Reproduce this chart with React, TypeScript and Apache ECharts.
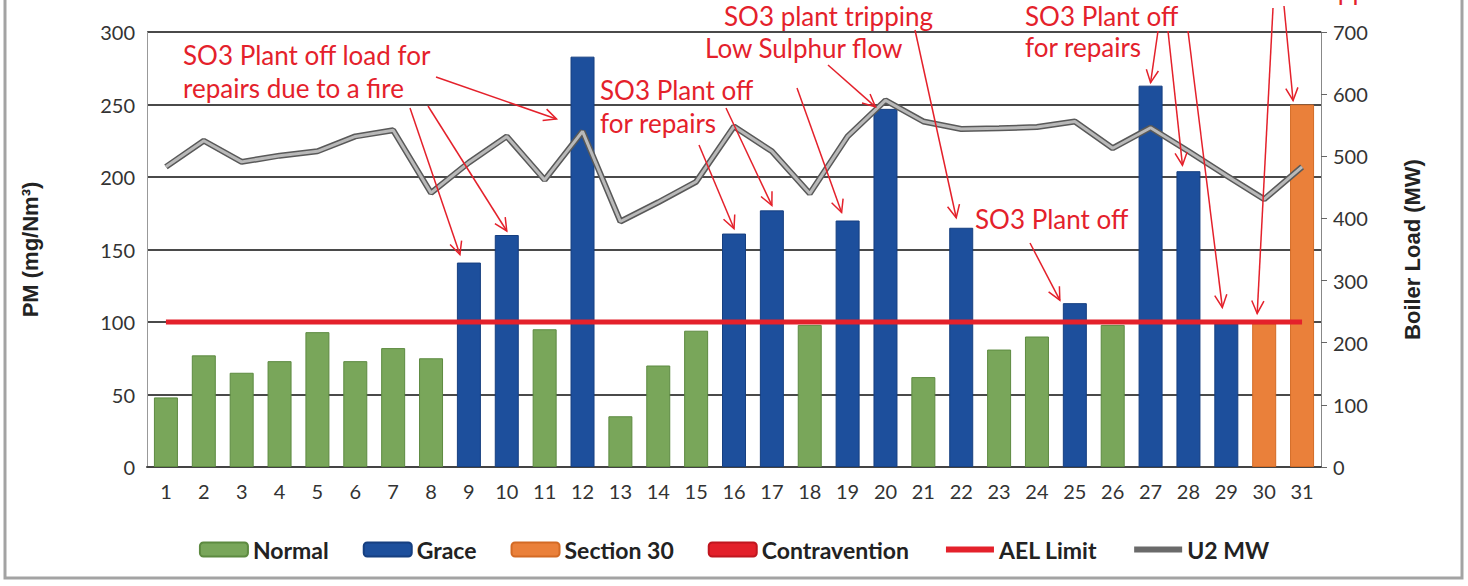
import React, { useEffect, useRef } from 'react';
import * as echarts from 'echarts';

// ---- data ----
const days = ['1','2','3','4','5','6','7','8','9','10','11','12','13','14','15','16','17','18','19','20','21','22','23','24','25','26','27','28','29','30','31'];
// N = Normal, G = Grace, S = Section 30, C = Contravention
const status = ['N','N','N','N','N','N','N','N','G','G','N','G','N','N','N','G','G','N','G','G','N','G','N','N','G','N','G','G','G','S','S'];
const pmValues = [48,77,65,73,93,73,82,75,141,160,95,283,35,70,94,161,177,98,170,247,62,165,81,90,113,98,263,204,99,99,250];
const mwValues = [483,525,491,501,508,532,542,441,490,532,462,540,395,426,459,548,508,440,532,590,556,544,545,547,556,513,546,508,469,431,483];
const aelLimit = [100,100,100,100,100,100,100,100,100,100,100,100,100,100,100,100,100,100,100,100,100,100,100,100,100,100,100,100,100,100,100];
const pmTicks = { min: 0, max: 300, interval: 50 };
const mwTicks = { min: 0, max: 700, interval: 100 };

const statusSeries = [
  { key: 'N', name: 'Normal', color: '#79a65a', border: '#5d8a40' },
  { key: 'G', name: 'Grace', color: '#1d4f9c', border: '#163f80' },
  { key: 'S', name: 'Section 30', color: '#ea803a', border: '#d36a25' },
  { key: 'C', name: 'Contravention', color: '#e3202a', border: '#c0161f' },
];
const legendNames = ['Normal', 'Grace', 'Section 30', 'Contravention', 'AEL Limit', 'U2 MW'];

// annotations: text lines (layout positions) and arrows pointing at data (day, pm value)
const annotationTexts = [
  { text: 'SO3 Plant off load for', x: 183, y: 55 },
  { text: 'repairs due to a fire', x: 183, y: 88 },
  { text: 'SO3 Plant off', x: 600, y: 90 },
  { text: 'for repairs', x: 600, y: 123 },
  { text: 'Low Sulphur flow', x: 705, y: 48 },
  { text: 'SO3 plant tripping', x: 724, y: 16 },
  { text: 'SO3 Plant off', x: 1025, y: 16 },
  { text: 'for repairs', x: 1025, y: 47 },
  { text: 'SO3 Plant off', x: 975, y: 219 },
  { text: 'Section 30 applied', x: 1196, y: -10 },
];
const annotationArrows = [
  { from: [410, 108], day: 9, pm: 141, dx: -9, dy: -8 },
  { from: [428, 106], day: 10, pm: 160, dx: 0, dy: -4 },
  { from: [436, 77], day: 12, pm: 240, dx: -26, dy: 0 },
  { from: [699, 145], day: 16, pm: 161, dx: 0, dy: -5 },
  { from: [726, 108], day: 17, pm: 177, dx: 0, dy: -5 },
  { from: [797, 88], day: 19, pm: 170, dx: -6, dy: -8 },
  { from: [828, 65], day: 20, pm: 247, dx: -10, dy: -2 },
  { from: [915, 30], day: 22, pm: 165, dx: -5, dy: -10 },
  { from: [1030, 243], day: 25, pm: 113, dx: -15, dy: -3 },
  { from: [1158, 31], day: 27, pm: 263, dx: 0, dy: -3 },
  { from: [1168, 31], day: 28, pm: 204, dx: -6, dy: -6 },
  { from: [1188, 31], day: 29, pm: 99, dx: -4, dy: -16 },
  { from: [1273, 8], day: 30, pm: 99, dx: -7, dy: -10 },
  { from: [1284, 6], day: 31, pm: 250, dx: -9, dy: -4 },
];

const RED = '#e4212b';
const TICK_FONT = 'Lato';

export default function App() {
  const ref = useRef<HTMLDivElement>(null);

  useEffect(() => {
    document.body.style.margin = '0';
    const chart = echarts.init(ref.current!, null, { renderer: 'svg' });

    const barSeries = statusSeries.map((s) => ({
      name: s.name,
      type: 'bar',
      stack: 'pm',
      barWidth: 24,
      yAxisIndex: 0,
      itemStyle: { color: s.color, borderColor: s.border, borderWidth: 1 },
      data: pmValues.map((v, i) => (status[i] === s.key ? v : '-')),
      z: 2,
    }));

    const option: any = {
      animation: false,
      backgroundColor: '#ffffff',
      grid: { left: 147, right: 147, top: 32, bottom: 119, containLabel: false },
      legend: {
        data: legendNames.map((n) => {
          if (n === 'AEL Limit') return { name: n, itemStyle: { opacity: 0 }, lineStyle: { width: 6, color: RED } };
          if (n === 'U2 MW') return { name: n, itemStyle: { opacity: 0 }, lineStyle: { width: 6, color: '#6a6a6a' } };
          return { name: n };
        }),
        top: 533,
        left: 'center',
        itemWidth: 48,
        itemHeight: 14,
        itemGap: 34,
        textStyle: { fontFamily: 'Lato', fontWeight: 'bold', fontSize: 23, color: '#222' },
      },
      xAxis: {
        type: 'category',
        data: days,
        axisLine: { show: true, lineStyle: { color: '#444', width: 2 } },
        axisTick: { show: false },
        axisLabel: { fontFamily: TICK_FONT, fontSize: 20, color: '#333', margin: 14 },
      },
      yAxis: [
        {
          type: 'value',
          min: pmTicks.min,
          max: pmTicks.max,
          interval: pmTicks.interval,
          name: 'PM (mg/Nm³)',
          nameLocation: 'middle',
          nameGap: 106,
          nameTextStyle: { fontFamily: 'Liberation Sans', fontWeight: 'bold', fontSize: 22, color: '#222' },
          axisLine: { show: true, lineStyle: { color: '#999', width: 1 } },
          axisTick: { show: false },
          axisLabel: { fontFamily: TICK_FONT, fontSize: 20, color: '#333', margin: 12 },
          splitLine: { show: true, lineStyle: { color: '#4a4a4a', width: 2 } },
        },
        {
          type: 'value',
          min: mwTicks.min,
          max: mwTicks.max,
          interval: mwTicks.interval,
          name: 'Boiler Load (MW)',
          nameLocation: 'middle',
          nameGap: 80,
          nameTextStyle: { fontFamily: 'Liberation Sans', fontWeight: 'bold', fontSize: 22, color: '#222' },
          axisLine: { show: true, lineStyle: { color: '#888', width: 1 } },
          axisTick: { show: true, length: 6, lineStyle: { color: '#666' } },
          axisLabel: { fontFamily: TICK_FONT, fontSize: 20, color: '#333', margin: 12 },
          splitLine: { show: false },
        },
      ],
      series: [
        ...barSeries,
        {
          name: 'AEL Limit',
          type: 'line',
          yAxisIndex: 0,
          data: aelLimit,
          symbol: 'none',
          lineStyle: { color: RED, width: 5 },
          itemStyle: { color: RED },
          z: 5,
        },
        {
          name: 'U2 MW',
          type: 'line',
          yAxisIndex: 1,
          data: mwValues,
          symbol: 'none',
          lineStyle: { color: '#595959', width: 6 },
          itemStyle: { color: '#595959' },
          z: 6,
        },
        {
          name: 'U2 MW core',
          type: 'line',
          yAxisIndex: 1,
          data: mwValues,
          symbol: 'none',
          lineStyle: { color: '#b9b9b9', width: 3 },
          itemStyle: { color: '#b9b9b9' },
          z: 7,
        },
      ],
    };

    chart.setOption(option);

    const graphics: any[] = [];
    graphics.push({
      type: 'rect',
      shape: { x: 5, y: -5, width: 1457, height: 583 },
      style: { fill: 'none', stroke: '#a3a3a3', lineWidth: 3 },
      silent: true,
      z: 0,
    });
    annotationTexts.forEach((t) => {
      graphics.push({
        type: 'text',
        x: t.x,
        y: t.y,
        style: { text: t.text, fill: RED, fontFamily: 'Lato', fontSize: 26, verticalAlign: 'middle', align: 'left' },
        z: 100,
      });
    });
    annotationArrows.forEach((a) => {
      const p = chart.convertToPixel({ xAxisIndex: 0, yAxisIndex: 0 }, [a.day - 1, a.pm]) as number[];
      const ex = p[0] + a.dx;
      const ey = p[1] + a.dy;
      const [sx, sy] = a.from;
      const ang = Math.atan2(ey - sy, ex - sx);
      const L = 14;
      const spread = 0.45;
      const h1 = [ex - L * Math.cos(ang - spread), ey - L * Math.sin(ang - spread)];
      const h2 = [ex - L * Math.cos(ang + spread), ey - L * Math.sin(ang + spread)];
      graphics.push({
        type: 'line',
        shape: { x1: sx, y1: sy, x2: ex, y2: ey },
        style: { stroke: RED, lineWidth: 1.5 },
        z: 100,
      });
      graphics.push({
        type: 'polyline',
        shape: { points: [h1, [ex, ey], h2] },
        style: { stroke: RED, lineWidth: 1.5, fill: 'none' },
        z: 100,
      });
    });
    chart.setOption({ graphic: graphics });

    return () => chart.dispose();
  }, []);

  return <div ref={ref} style={{ width: 1468, height: 586 }} />;
}
